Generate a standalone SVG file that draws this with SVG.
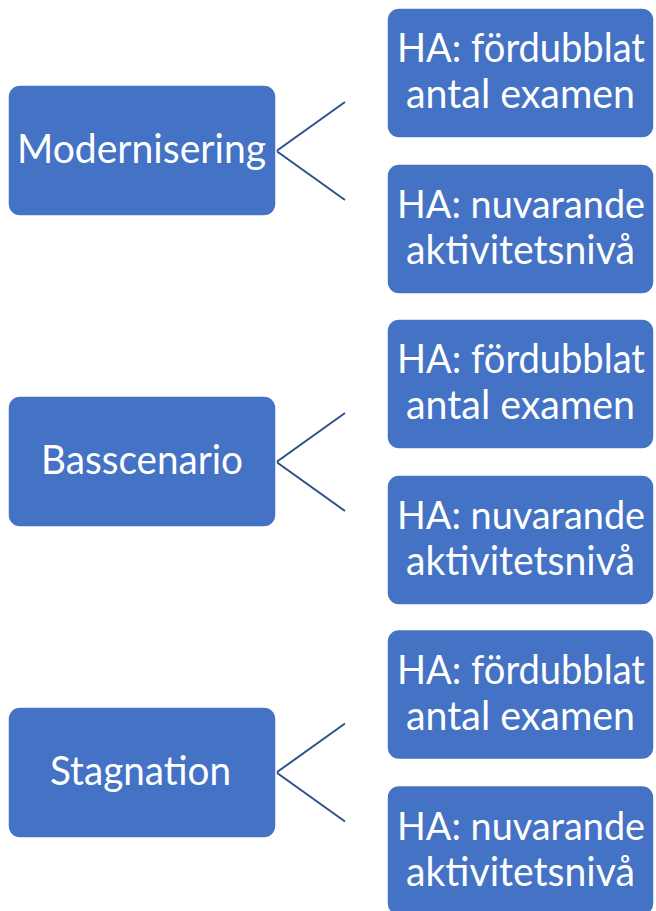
<svg xmlns="http://www.w3.org/2000/svg" width="656" height="911" viewBox="0 0 656 911">
<style>
.box{fill:#4472C4;stroke:#ffffff;stroke-width:1.5}
.t{font-family:Lato,"Liberation Sans",sans-serif;font-size:40px;fill:#ffffff}
.s{font-size:39px}
.c{stroke:#2F528F;stroke-width:2;fill:none}
</style>
<rect width="656" height="911" fill="#ffffff"/>
<g id="connectors">
<path class="c" d="M345,102 L276.5,151 L345,200"/>
<path class="c" d="M345,413 L276.5,462 L345,511"/>
<path class="c" d="M345,723.5 L276.5,772.5 L345,821.5"/>
</g>
<g id="n1">
<rect class="box" x="8" y="85" width="268" height="131" rx="12"/>
<text class="t" x="17" y="163" textLength="249" lengthAdjust="spacingAndGlyphs">Modernisering</text>
</g>
<g id="n1a">
<rect class="box" x="387" y="8" width="267" height="130" rx="12"/>
<text class="t" x="397" y="62" textLength="248" lengthAdjust="spacingAndGlyphs">HA: fördubblat</text>
<text class="t" x="406" y="108" textLength="229" lengthAdjust="spacingAndGlyphs">antal examen</text>
</g>
<g id="n1b">
<rect class="box" x="387" y="164" width="267" height="130" rx="12"/>
<text class="t s" x="397" y="218" textLength="248" lengthAdjust="spacingAndGlyphs">HA: nuvarande</text>
<text class="t" x="406" y="264" textLength="229" lengthAdjust="spacingAndGlyphs">aktivitetsnivå</text>
</g>
<g id="n2">
<rect class="box" x="8" y="396" width="268" height="131" rx="12"/>
<text class="t" x="41" y="474" textLength="202" lengthAdjust="spacingAndGlyphs">Basscenario</text>
</g>
<g id="n2a">
<rect class="box" x="387" y="319" width="267" height="130" rx="12"/>
<text class="t" x="397" y="373" textLength="248" lengthAdjust="spacingAndGlyphs">HA: fördubblat</text>
<text class="t" x="406" y="419" textLength="229" lengthAdjust="spacingAndGlyphs">antal examen</text>
</g>
<g id="n2b">
<rect class="box" x="387" y="475" width="267" height="130" rx="12"/>
<text class="t s" x="397" y="529" textLength="248" lengthAdjust="spacingAndGlyphs">HA: nuvarande</text>
<text class="t" x="406" y="575" textLength="229" lengthAdjust="spacingAndGlyphs">aktivitetsnivå</text>
</g>
<g id="n3">
<rect class="box" x="8" y="707" width="268" height="131" rx="12"/>
<text class="t" x="50" y="785" textLength="181" lengthAdjust="spacingAndGlyphs">Stagnation</text>
</g>
<g id="n3a">
<rect class="box" x="387" y="629.5" width="267" height="130" rx="12"/>
<text class="t" x="397" y="683.5" textLength="248" lengthAdjust="spacingAndGlyphs">HA: fördubblat</text>
<text class="t" x="406" y="729.5" textLength="229" lengthAdjust="spacingAndGlyphs">antal examen</text>
</g>
<g id="n3b">
<rect class="box" x="387" y="785.5" width="267" height="130" rx="12"/>
<text class="t s" x="397" y="839.5" textLength="248" lengthAdjust="spacingAndGlyphs">HA: nuvarande</text>
<text class="t" x="406" y="885.5" textLength="229" lengthAdjust="spacingAndGlyphs">aktivitetsnivå</text>
</g>
</svg>
